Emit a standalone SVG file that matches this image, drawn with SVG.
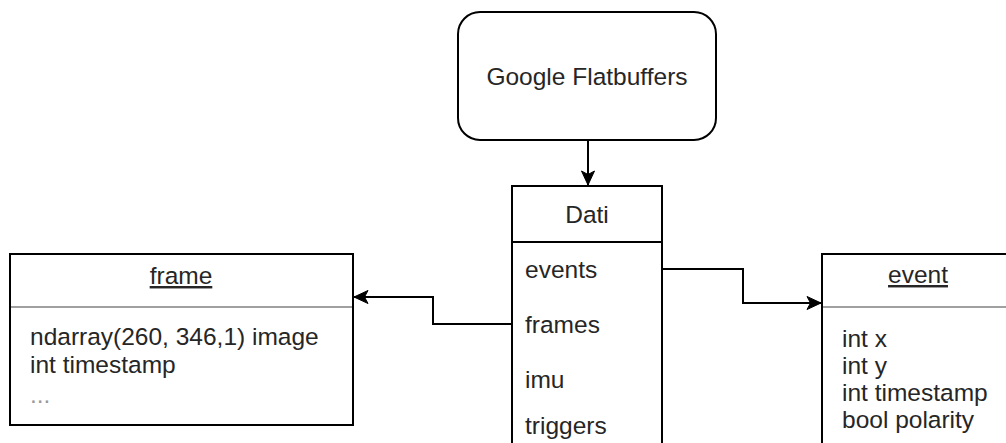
<svg xmlns="http://www.w3.org/2000/svg" width="1006" height="443" viewBox="0 0 1006 443">
<style>
.box{fill:#fff;stroke:#000;stroke-width:2}
.sep{stroke:#a0a0a0;stroke-width:2}
.sepd{stroke:#000;stroke-width:2}
.t{font-family:"Liberation Sans",Arial,sans-serif;font-size:24.5px;fill:#262626}
.c{text-anchor:middle}
.u{text-decoration:underline}
.conn{fill:none;stroke:#000;stroke-width:2}
</style>
<defs>
<marker id="arr" markerWidth="16" markerHeight="16" viewBox="0 0 16 16" refX="15" refY="8" orient="auto" markerUnits="userSpaceOnUse">
<path d="M1,1.5 L15,8 L1,14.5 L4.5,8 Z" fill="#000" stroke="#000" stroke-width="1"/>
</marker>
</defs>
<rect width="1006" height="443" fill="#fff"/>
<g id="google">
<rect class="box" x="458" y="12" width="258" height="128" rx="22"/>
<text class="t c" x="587" y="85">Google Flatbuffers</text>
</g>
<g id="dati">
<rect class="box" x="512" y="186" width="150" height="300"/>
<line class="sepd" x1="512" y1="242" x2="662" y2="242"/>
<text class="t c" x="587" y="223">Dati</text>
<text class="t" x="525" y="278">events</text>
<text class="t" x="525" y="333">frames</text>
<text class="t" x="525" y="388">imu</text>
<text class="t" x="525" y="434">triggers</text>
</g>
<g id="frame">
<rect class="box" x="10" y="254" width="343" height="171"/>
<line class="sep" x1="11" y1="307" x2="352" y2="307"/>
<text class="t c u" x="181" y="284">frame</text>
<text class="t" x="30" y="345">ndarray(260, 346,1) image</text>
<text class="t" x="30" y="373">int timestamp</text>
<text class="t" x="30" y="403" style="fill:#999">...</text>
</g>
<g id="event">
<rect class="box" x="822" y="254" width="192" height="220"/>
<line class="sep" x1="823" y1="307" x2="1013" y2="307"/>
<text class="t c u" x="918" y="283">event</text>
<text class="t" x="842" y="347">int x</text>
<text class="t" x="842" y="374">int y</text>
<text class="t" x="842" y="401">int timestamp</text>
<text class="t" x="842" y="428">bool polarity</text>
</g>
<g id="connectors">
<path class="conn" d="M588,140 L588,185" marker-end="url(#arr)"/>
<path class="conn" d="M512,324 L433,324 L433,297 L354,297" marker-end="url(#arr)"/>
<path class="conn" d="M662,269 L743,269 L743,303 L821,303" marker-end="url(#arr)"/>
</g>
</svg>
